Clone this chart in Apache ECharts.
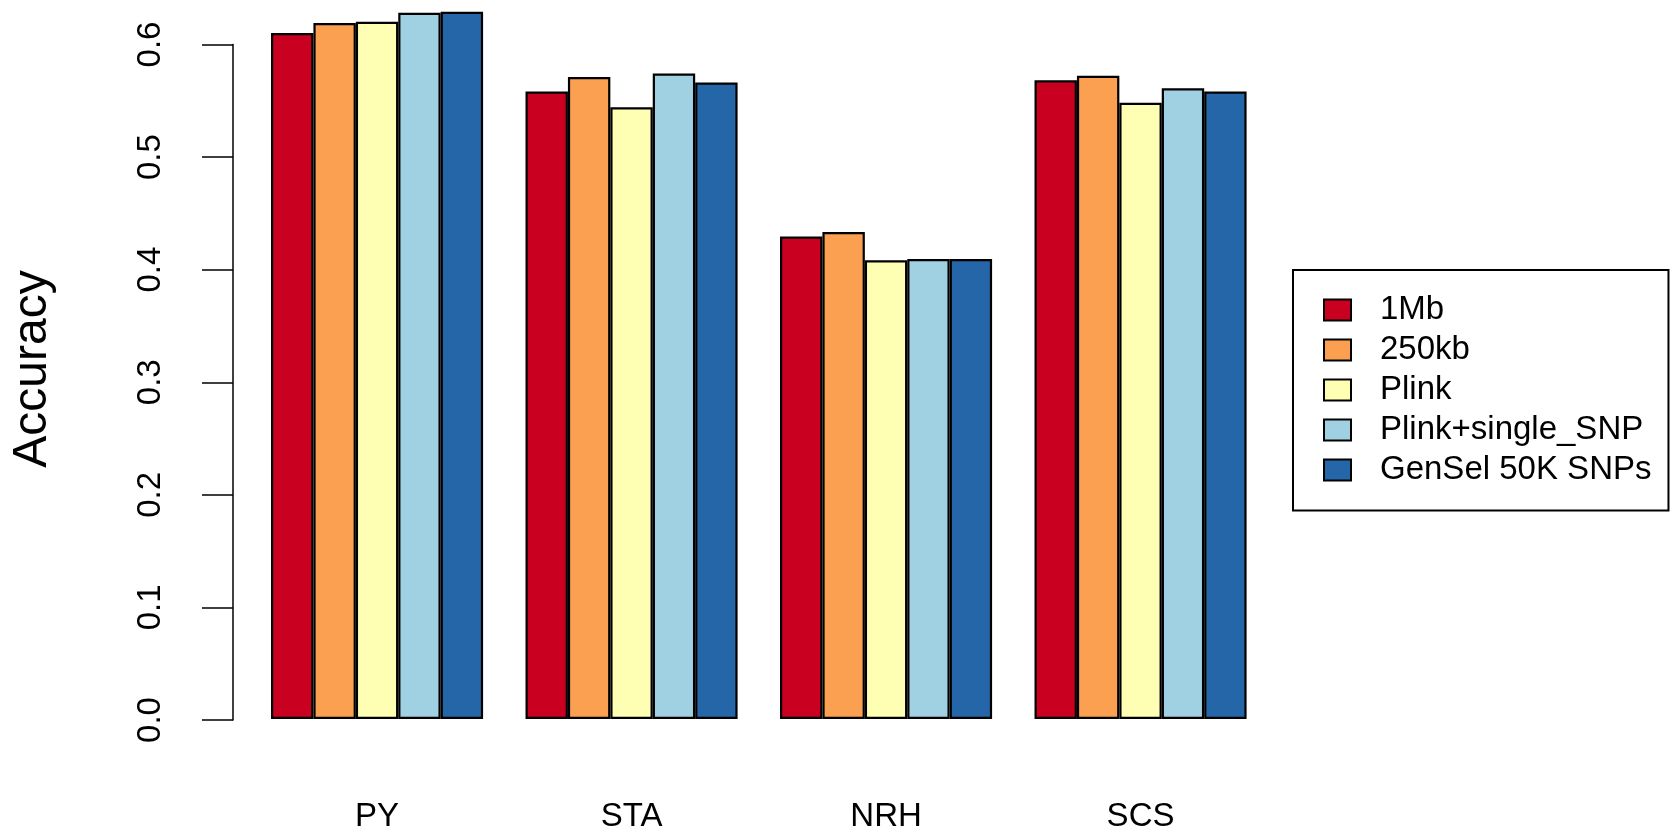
<!DOCTYPE html>
<html>
<head>
<meta charset="utf-8">
<script src="https://cdn.jsdelivr.net/npm/echarts@6/dist/echarts.min.js"></script>
<style>
html,body{margin:0;padding:0;background:#fff;}
#chart{width:1673px;height:833px;}
</style>
</head>
<body>
<div id="chart"></div>
<script>
var categories = ['PY', 'STA', 'NRH', 'SCS'];
var seriesNames = ['1Mb', '250kb', 'Plink', 'Plink+single_SNP', 'GenSel 50K SNPs'];
var values1Mb = [0.610, 0.558, 0.429, 0.568];
var values250kb = [0.619, 0.571, 0.433, 0.572];
var valuesPlink = [0.620, 0.544, 0.408, 0.548];
var valuesPlinkSingle = [0.628, 0.574, 0.409, 0.561];
var valuesGenSel = [0.629, 0.566, 0.409, 0.558];
var yTicks = [0.0, 0.1, 0.2, 0.3, 0.4, 0.5, 0.6];
var yLabel = 'Accuracy';

var colors = ['#CA0020', '#FBA050', '#FFFFB3', '#9FD1E3', '#2466A8'];
var allValues = [values1Mb, values250kb, valuesPlink, valuesPlinkSingle, valuesGenSel];
var FONT = '"Liberation Sans", Arial, Helvetica, sans-serif';

var chart = echarts.init(document.getElementById('chart'), null, {renderer: 'canvas'});

var series = seriesNames.map(function (name, i) {
  return {
    name: name,
    type: 'bar',
    xAxisIndex: 0,
    yAxisIndex: 0,
    data: allValues[i],
    barGap: '0%',
    barCategoryGap: '16.67%',
    itemStyle: {color: colors[i], borderColor: '#000', borderWidth: 2.2},
    emphasis: {disabled: true}
  };
});

var option = {
  animation: false,
  backgroundColor: '#fff',
  textStyle: {fontFamily: FONT},
  grid: [
    {left: 249.8, right: 405.2, top: 10.6, bottom: 113, containLabel: false},
    {left: 233, width: 10, top: 44.5, bottom: 113, containLabel: false}
  ],
  xAxis: [
    {
      gridIndex: 0, type: 'category', data: categories,
      axisLine: {show: false}, axisTick: {show: false},
      axisLabel: {fontSize: 33, color: '#000', margin: 81, lineHeight: 33, fontFamily: FONT, interval: 0},
      splitLine: {show: false}
    },
    {gridIndex: 1, type: 'value', show: false}
  ],
  yAxis: [
    {gridIndex: 0, type: 'value', min: 0, max: 0.63, show: false, splitLine: {show: false}},
    {
      gridIndex: 1, type: 'value', min: yTicks[0], max: yTicks[yTicks.length - 1], interval: 0.1,
      axisLine: {show: true, lineStyle: {color: '#000', width: 1.5}},
      axisTick: {show: true, length: 31, lineStyle: {color: '#000', width: 1.5}},
      axisLabel: {
        rotate: 90, fontSize: 33, color: '#000', margin: 66, lineHeight: 33, fontFamily: FONT,
        showMinLabel: true, showMaxLabel: true,
        formatter: function (v) { return v.toFixed(1); }
      },
      splitLine: {show: false}
    }
  ],
  legend: {
    orient: 'vertical',
    left: 1293, top: 270,
    padding: [23.5, 17, 24, 30],
    borderColor: '#000', borderWidth: 2,
    itemWidth: 27, itemHeight: 21, itemGap: 7,
    icon: 'rect',
    selectedMode: false,
    textStyle: {fontSize: 33, color: '#000', fontFamily: FONT, padding: [0, 0, 0, 24]},
    data: seriesNames
  },
  graphic: [{
    type: 'text',
    x: 33, y: 369,
    rotation: Math.PI / 2,
    style: {text: yLabel, fontSize: 48, fontFamily: FONT, fill: '#000', textAlign: 'center', textVerticalAlign: 'middle'}
  }],
  series: series
};
chart.setOption(option);
</script>
</body>
</html>
